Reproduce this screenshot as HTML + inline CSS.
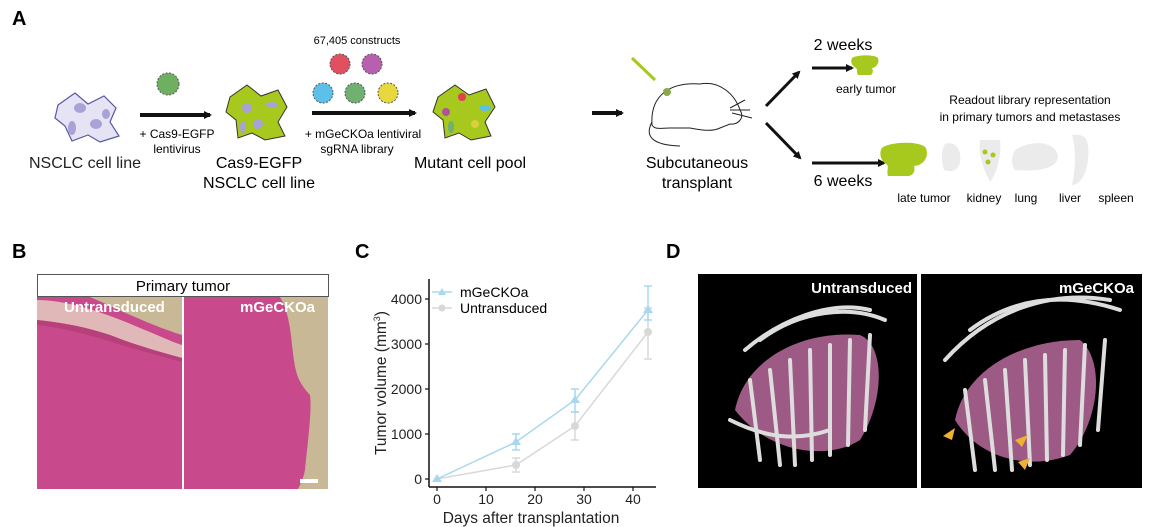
<!DOCTYPE html>
<html><head><meta charset="utf-8"><style>
html,body{margin:0;padding:0;background:#fff;}
svg{display:block;font-family:"Liberation Sans",Arial,sans-serif;}
</style></head><body>
<svg width="1159" height="527" viewBox="0 0 1159 527" xmlns="http://www.w3.org/2000/svg">
<defs>
<marker id="ah" markerWidth="8" markerHeight="8" refX="6" refY="4" orient="auto" markerUnits="userSpaceOnUse"><path d="M0,0 L8,4 L0,8 z" fill="#111"/></marker>
</defs>
<text x="12" y="25" font-size="20" font-weight="bold">A</text>
<text x="12" y="258" font-size="20" font-weight="bold">B</text>
<text x="355" y="258" font-size="20" font-weight="bold">C</text>
<text x="666" y="258" font-size="20" font-weight="bold">D</text>

<!-- Panel A -->
<g>
<path d="M58,105 L75,93 L88,104 L104,96 L116,108 L110,122 L119,136 L100,142 L88,135 L72,141 L65,126 L55,118 z" fill="#e6e4f4" stroke="#5557a8" stroke-width="1.2"/>
<g fill="#a8a2d6"><ellipse cx="80" cy="108" rx="6" ry="5"/><ellipse cx="96" cy="124" rx="6" ry="5"/><ellipse cx="72" cy="128" rx="4" ry="7"/><ellipse cx="106" cy="114" rx="4" ry="5"/></g>
<text x="85" y="168" font-size="16" text-anchor="middle" fill="#222">NSCLC cell line</text>
<line x1="140" y1="115" x2="210" y2="115" stroke="#111" stroke-width="4" marker-end="url(#ah)"/>
<circle cx="168" cy="84" r="11" fill="#6fb060" stroke="#555" stroke-dasharray="2,1.5"/>
<text x="177" y="138" font-size="12" text-anchor="middle">+ Cas9-EGFP</text>
<text x="177" y="153" font-size="12" text-anchor="middle">lentivirus</text>
<path d="M230,97 L247,85 L261,96 L278,90 L287,107 L278,122 L285,136 L265,140 L252,133 L238,138 L236,120 L226,112 z" fill="#a7c81c" stroke="#333" stroke-width="1"/>
<g fill="#a8a2d6"><ellipse cx="247" cy="108" rx="5" ry="5"/><ellipse cx="272" cy="105" rx="6" ry="3"/><ellipse cx="258" cy="124" rx="5" ry="5"/><ellipse cx="243" cy="127" rx="3" ry="6"/></g>
<text x="259" y="168" font-size="16" text-anchor="middle">Cas9-EGFP</text>
<text x="259" y="188" font-size="16" text-anchor="middle">NSCLC cell line</text>
<text x="357" y="44" font-size="11" text-anchor="middle">67,405 constructs</text>
<circle cx="340" cy="64" r="10" fill="#e05060" stroke="#555" stroke-dasharray="2,1.5"/>
<circle cx="372" cy="64" r="10" fill="#b860b0" stroke="#555" stroke-dasharray="2,1.5"/>
<circle cx="323" cy="93" r="10" fill="#5cc0e8" stroke="#555" stroke-dasharray="2,1.5"/>
<circle cx="355" cy="93" r="10" fill="#70b070" stroke="#555" stroke-dasharray="2,1.5"/>
<circle cx="388" cy="93" r="10" fill="#e8d840" stroke="#555" stroke-dasharray="2,1.5"/>
<line x1="312" y1="113" x2="415" y2="113" stroke="#111" stroke-width="4" marker-end="url(#ah)"/>
<text x="363" y="138" font-size="12" text-anchor="middle">+ mGeCKOa lentiviral</text>
<text x="357" y="153" font-size="12" text-anchor="middle">sgRNA library</text>
<path d="M438,97 L455,85 L469,95 L486,89 L495,107 L485,122 L491,136 L471,140 L459,133 L445,138 L443,120 L433,112 z" fill="#a7c81c" stroke="#333" stroke-width="1"/>
<g><circle cx="462" cy="97" r="4" fill="#e04050"/><circle cx="446" cy="112" r="4" fill="#b050a0"/><ellipse cx="485" cy="108" rx="6" ry="3" fill="#5cc0e8"/><circle cx="475" cy="124" r="4" fill="#d8d040"/><ellipse cx="451" cy="127" rx="3" ry="6" fill="#70b070"/></g>
<text x="470" y="168" font-size="16" text-anchor="middle">Mutant cell pool</text>
<line x1="592" y1="113" x2="622" y2="113" stroke="#111" stroke-width="4" marker-end="url(#ah)"/>
<g fill="none" stroke="#222" stroke-width="1">
<path d="M652,125 C650,95 670,82 700,84 C720,80 735,95 740,110 C745,118 738,125 730,124 L720,128 C712,132 700,130 690,128 L670,128 C660,128 655,130 652,125 z"/>
<path d="M652,122 C645,135 650,145 680,146"/>
<path d="M730,110 L750,110 M732,113 L752,118 M730,108 L745,100"/>
</g>
<circle cx="667" cy="92" r="4" fill="#8aa84a"/>
<line x1="632" y1="58" x2="655" y2="80" stroke="#a7c81c" stroke-width="3"/>
<text x="697" y="168" font-size="16" text-anchor="middle">Subcutaneous</text>
<text x="697" y="188" font-size="16" text-anchor="middle">transplant</text>
<line x1="766" y1="106" x2="799" y2="72" stroke="#111" stroke-width="3" marker-end="url(#ah)"/>
<line x1="766" y1="123" x2="800" y2="158" stroke="#111" stroke-width="3" marker-end="url(#ah)"/>
<text x="843" y="50" font-size="16" text-anchor="middle">2 weeks</text>
<line x1="812" y1="68" x2="852" y2="68" stroke="#111" stroke-width="3" marker-end="url(#ah)"/>
<path d="M852,58 C855,55 875,54 878,58 C880,64 875,68 872,68 C874,72 872,75 870,75 L858,75 C856,72 858,70 856,68 C852,66 850,62 852,58 z" fill="#a7c81c"/>
<text x="866" y="93" font-size="12" text-anchor="middle">early tumor</text>
<text x="1030" y="104" font-size="12" text-anchor="middle">Readout library representation</text>
<text x="1030" y="121" font-size="12" text-anchor="middle">in primary tumors and metastases</text>
<text x="843" y="186" font-size="16" text-anchor="middle">6 weeks</text>
<line x1="812" y1="163" x2="884" y2="163" stroke="#111" stroke-width="3" marker-end="url(#ah)"/>
<path d="M882,148 C888,142 920,140 926,148 C930,160 920,166 914,166 C916,172 912,176 908,176 L888,176 C886,170 890,166 886,164 C880,160 879,152 882,148 z" fill="#a7c81c"/>
<path d="M945,144 C955,140 962,150 960,162 C958,172 950,172 944,170 C941,160 941,150 945,144 z" fill="#ebebeb"/>
<path d="M980,140 L1000,140 C1002,155 996,175 990,182 C984,170 978,155 980,140 z" fill="#ebebeb"/>
<circle cx="985" cy="152" r="2.5" fill="#a7c81c"/><circle cx="993" cy="155" r="2.5" fill="#a7c81c"/><circle cx="988" cy="162" r="2.5" fill="#a7c81c"/>
<path d="M1015,150 C1030,140 1055,140 1058,156 C1058,168 1040,172 1015,170 C1010,163 1012,156 1015,150 z" fill="#ebebeb"/>
<path d="M1072,135 C1086,133 1090,140 1088,160 C1086,175 1080,185 1072,185 C1076,165 1076,150 1072,135 z" fill="#ebebeb"/>
<text x="924" y="202" font-size="12" text-anchor="middle">late tumor</text>
<text x="984" y="202" font-size="12" text-anchor="middle">kidney</text>
<text x="1026" y="202" font-size="12" text-anchor="middle">lung</text>
<text x="1070" y="202" font-size="12" text-anchor="middle">liver</text>
<text x="1116" y="202" font-size="12" text-anchor="middle">spleen</text>
</g>

<!-- Panel B -->
<rect x="37.5" y="274.5" width="291" height="22" fill="#fff" stroke="#555"/>
<text x="183" y="291" font-size="15" text-anchor="middle">Primary tumor</text>
<rect x="37" y="297" width="145" height="192" fill="#c8b896"/>
<path d="M37,297 L90,297 C120,310 150,325 182,335 L182,489 L37,489 z" fill="#c94a8c"/>
<path d="M37,300 C70,300 110,315 140,328 C160,336 172,342 182,345 L182,358 C160,352 135,345 110,335 C80,325 55,322 37,320 z" fill="#e0b8b8"/>
<path d="M37,320 C55,322 80,325 110,335 C135,345 160,352 182,358 L182,362 C160,356 130,348 105,340 C80,332 55,327 37,325 z" fill="#b8407a"/>
<rect x="184" y="297" width="144" height="192" fill="#c8b896"/>
<path d="M184,297 L280,297 C285,305 290,320 292,345 C295,370 296,380 310,395 C312,410 308,440 305,470 C303,480 300,485 298,489 L184,489 z" fill="#c94a8c"/>
<text x="64" y="312" font-size="15" font-weight="bold" fill="#fff">Untransduced</text>
<text x="240" y="312" font-size="15" font-weight="bold" fill="#fff">mGeCKOa</text>
<rect x="300" y="479" width="18" height="4" fill="#fff"/>

<!-- Panel C -->
<g font-size="14" fill="#222">
<line x1="429" y1="279" x2="429" y2="487" stroke="#111" stroke-width="1.5"/>
<line x1="429" y1="487" x2="656" y2="487" stroke="#111" stroke-width="1.5"/>
<g stroke="#111" stroke-width="1.2">
<line x1="425" y1="479" x2="429" y2="479"/><line x1="425" y1="434" x2="429" y2="434"/><line x1="425" y1="389" x2="429" y2="389"/><line x1="425" y1="344" x2="429" y2="344"/><line x1="425" y1="299" x2="429" y2="299"/>
<line x1="437" y1="487" x2="437" y2="491"/><line x1="486" y1="487" x2="486" y2="491"/><line x1="535" y1="487" x2="535" y2="491"/><line x1="584" y1="487" x2="584" y2="491"/><line x1="633" y1="487" x2="633" y2="491"/>
</g>
<g text-anchor="end"><text x="422" y="484">0</text><text x="422" y="439">1000</text><text x="422" y="394">2000</text><text x="422" y="349">3000</text><text x="422" y="304">4000</text></g>
<g text-anchor="middle"><text x="437" y="504">0</text><text x="486" y="504">10</text><text x="535" y="504">20</text><text x="584" y="504">30</text><text x="633" y="504">40</text></g>
<text x="531" y="523" font-size="15.5" text-anchor="middle">Days after transplantation</text>
<text transform="translate(386,383) rotate(-90)" font-size="15.5" text-anchor="middle">Tumor volume (mm<tspan font-size="9" dy="-6">3</tspan><tspan dy="6">)</tspan></text>
</g>
<g stroke="#d8d8d8" stroke-width="1.5" fill="none">
<polyline points="437,479 516,465 575,426 648,332"/>
<line x1="516" y1="458" x2="516" y2="472"/><line x1="512" y1="458" x2="520" y2="458"/><line x1="512" y1="472" x2="520" y2="472"/>
<line x1="575" y1="412" x2="575" y2="440"/><line x1="571" y1="412" x2="579" y2="412"/><line x1="571" y1="440" x2="579" y2="440"/>
<line x1="648" y1="308" x2="648" y2="359"/><line x1="644" y1="308" x2="652" y2="308"/><line x1="644" y1="359" x2="652" y2="359"/>
</g>
<g fill="#d8d8d8"><circle cx="516" cy="465" r="4"/><circle cx="575" cy="426" r="4"/><circle cx="648" cy="332" r="4"/></g>
<g stroke="#a8d8f0" stroke-width="1.5" fill="none">
<polyline points="437,479 516,442 575,400 648,310"/>
<line x1="516" y1="434" x2="516" y2="450"/><line x1="512" y1="434" x2="520" y2="434"/><line x1="512" y1="450" x2="520" y2="450"/>
<line x1="575" y1="389" x2="575" y2="412"/><line x1="571" y1="389" x2="579" y2="389"/><line x1="571" y1="412" x2="579" y2="412"/>
<line x1="648" y1="286" x2="648" y2="320"/><line x1="644" y1="286" x2="652" y2="286"/><line x1="644" y1="320" x2="652" y2="320"/>
</g>
<g fill="#a8d8f0"><path d="M437,474 L442,482 L432,482 z"/><path d="M516,437 L521,445 L511,445 z"/><path d="M575,395 L580,403 L570,403 z"/><path d="M648,305 L653,313 L643,313 z"/></g>
<line x1="432" y1="292" x2="452" y2="292" stroke="#a8d8f0" stroke-width="1.5"/><path d="M442,288 L446,295 L438,295 z" fill="#a8d8f0"/>
<line x1="432" y1="308" x2="452" y2="308" stroke="#d8d8d8" stroke-width="1.5"/><circle cx="442" cy="308" r="3.5" fill="#d8d8d8"/>
<text x="460" y="297" font-size="14">mGeCKOa</text>
<text x="460" y="313" font-size="14">Untransduced</text>

<!-- Panel D -->
<rect x="698" y="274" width="219" height="214" fill="#000"/>
<rect x="921" y="274" width="221" height="214" fill="#000"/>
<g fill="#b86a9c" opacity="0.85">
<path d="M735,410 C745,360 800,330 860,335 C885,345 885,400 860,440 C830,460 770,455 735,410 z"/>
<path d="M955,420 C965,370 1020,340 1080,340 C1105,360 1100,420 1070,455 C1030,470 980,460 955,420 z"/>
</g>
<g stroke="#ddd" stroke-width="4" fill="none" stroke-linecap="round">
<path d="M745,350 C780,320 830,300 870,310"/><path d="M760,340 C800,310 850,305 885,320"/>
<path d="M750,380 L760,460"/><path d="M770,370 L780,465"/><path d="M790,360 L795,465"/><path d="M810,350 L812,460"/><path d="M830,345 L830,455"/><path d="M850,340 L848,445"/><path d="M870,335 L865,430"/>
<path d="M730,420 C770,440 800,440 830,430"/>
<path d="M945,360 C990,310 1050,290 1110,300"/><path d="M970,330 C1010,300 1060,290 1120,310"/>
<path d="M965,390 L975,470"/><path d="M985,380 L995,470"/><path d="M1005,370 L1012,470"/><path d="M1025,360 L1030,465"/><path d="M1045,355 L1047,460"/><path d="M1065,350 L1063,455"/><path d="M1085,345 L1080,445"/><path d="M1105,340 L1098,430"/>
</g>
<g fill="#f0b030"><path d="M943,436 L955,428 L952,440 z"/><path d="M1015,440 L1028,435 L1022,447 z"/><path d="M1018,462 L1030,458 L1025,470 z"/></g>
<text x="912" y="293" font-size="15" font-weight="bold" fill="#fff" text-anchor="end">Untransduced</text>
<text x="1134" y="293" font-size="15" font-weight="bold" fill="#fff" text-anchor="end">mGeCKOa</text>
</svg>
</body></html>
